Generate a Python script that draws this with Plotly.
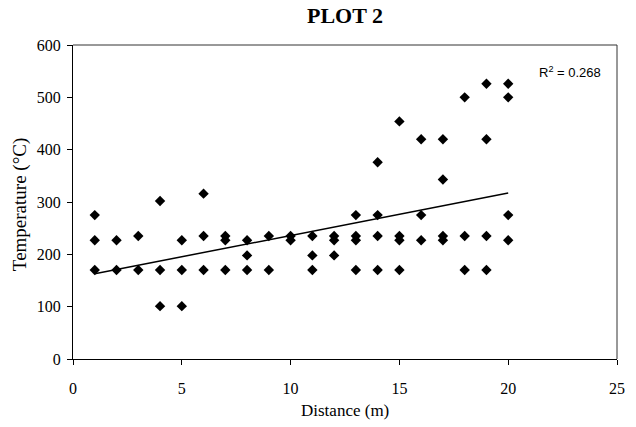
import plotly.graph_objects as go

distance = [1,1,1, 2,2, 3,3, 4,4,4, 5,5,5, 6,6,6, 7,7,7, 8,8,8, 9,9, 10,10,
            11,11,11, 12,12,12, 13,13,13,13, 14,14,14,14, 15,15,15,15,
            16,16,16, 17,17,17,17, 18,18,18, 19,19,19,19, 20,20,20,20]
temperature = [275,227,170, 227,170, 235,170, 302,170,101, 227,170,101, 316,235,170,
               235,227,170, 227,198,170, 235,170, 235,227,
               235,198,170, 235,227,198, 275,235,227,170, 376,275,235,170,
               454,235,227,170, 420,275,227, 420,343,235,227, 500,235,170,
               526,420,235,170, 526,500,275,227]

# linear trendline
trend_x = [1, 20]
trend_y = [163, 317]

x_ticks = [0, 5, 10, 15, 20, 25]
y_ticks = [0, 100, 200, 300, 400, 500, 600]

fig = go.Figure()
fig.add_trace(go.Scatter(x=trend_x, y=trend_y, mode="lines",
                         line=dict(color="black", width=1.5), hoverinfo="skip"))
fig.add_trace(go.Scatter(x=distance, y=temperature, mode="markers",
                         marker=dict(symbol="diamond", size=8, color="black",
                                     line=dict(width=0))))

font_serif = "Liberation Serif, Times New Roman, serif"
fig.update_layout(
    width=636, height=427,
    margin=dict(l=73, r=19, t=45, b=68, autoexpand=False),
    paper_bgcolor="white", plot_bgcolor="white",
    showlegend=False,
    font=dict(family=font_serif, size=16, color="black"),
    title=dict(text="<b>PLOT 2</b>", x=0.5, xanchor="center", xref="paper",
               y=1 - 15.5 / 427, yanchor="middle", yref="container",
               font=dict(family=font_serif, size=22, color="black")),
    xaxis=dict(range=[0, 25], tickvals=x_ticks, showgrid=False, zeroline=False,
               showline=True, linecolor="black", linewidth=1,
               ticks="outside", ticklen=5, tickcolor="black", automargin=False,
               ticklabelstandoff=10, tickfont=dict(size=16)),
    yaxis=dict(range=[0, 600], tickvals=y_ticks, showgrid=False, zeroline=False,
               showline=True, linecolor="black", linewidth=1,
               ticks="outside", ticklen=5, tickcolor="black", automargin=False,
               ticklabelstandoff=3, tickfont=dict(size=16)),
    shapes=[
        dict(type="line", xref="paper", yref="paper", x0=0, x1=1, y0=1, y1=1,
             line=dict(color="#333333", width=1)),
        dict(type="line", xref="paper", yref="paper", x0=1, x1=1, y0=0, y1=1,
             line=dict(color="#333333", width=1)),
    ],
    annotations=[
        dict(text="R<sup>2</sup> = 0.268", x=0.974, y=0.915, xref="paper", yref="paper",
             xanchor="right", yanchor="middle", showarrow=False,
             font=dict(family="Liberation Sans, Arial, sans-serif", size=13, color="black")),
        dict(text="Distance (m)", x=0.5, y=0, xref="paper", yref="paper",
             xanchor="center", yanchor="middle", yshift=-51, showarrow=False,
             font=dict(family=font_serif, size=17, color="black")),
        dict(text="Temperature (°C)", x=0, y=0.49, xref="paper", yref="paper",
             xanchor="center", yanchor="middle", xshift=-53, textangle=-90, showarrow=False,
             font=dict(family=font_serif, size=19, color="black")),
    ],
)

fig.write_html("out.html", config={"displayModeBar": False},
               post_script="document.body.style.margin='0';document.body.style.overflow='hidden';")
